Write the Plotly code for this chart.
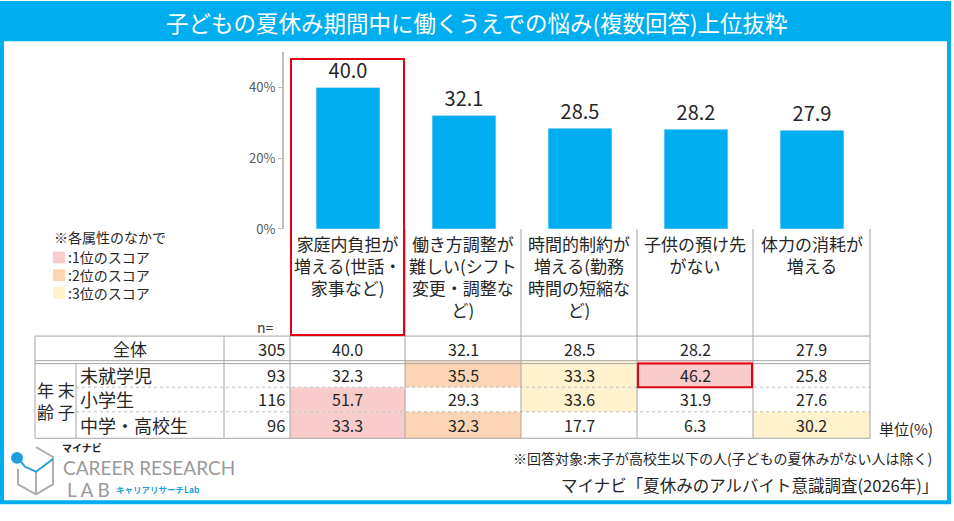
import plotly.graph_objects as go

# データ
categories = ["家庭内負担が増える(世話・家事など)", "働き方調整が難しい(シフト変更・調整など)",
              "時間的制約が増える(勤務時間の短縮など)", "子供の預け先がない", "体力の消耗が増える"]
cat_labels = ["家庭内負担が<br>増える(世話・<br>家事など)",
              "働き方調整が<br>難しい(シフト<br>変更・調整な<br>ど)",
              "時間的制約が<br>増える(勤務<br>時間の短縮な<br>ど)",
              "子供の預け先<br>がない",
              "体力の消耗が<br>増える"]
total_values = [40.0, 32.1, 28.5, 28.2, 27.9]
total_n = 305

group_labels = ["未就学児", "小学生", "中学・高校生"]
group_n = [93, 116, 96]
group_values = [
    [32.3, 35.5, 33.3, 46.2, 25.8],
    [51.7, 29.3, 33.6, 31.9, 27.6],
    [33.3, 32.3, 17.7, 6.3, 30.2],
]
# 各属性の順位 (1〜3位のみ色付け)
group_rank = [
    [0, 2, 3, 1, 0],
    [1, 0, 3, 0, 0],
    [1, 2, 0, 0, 3],
]
y_ticks = [0, 20, 40]

W, H = 954, 521
BLUE = "#00AEEF"
GRID = "#A6A6A6"
TXT = "#262626"
RANK_COL = {1: "#F9CCCC", 2: "#FCD5B4", 3: "#FFF2CC"}
FONT = "Noto Sans CJK JP"


def fx(x):
    return x / W


def fy(y):
    return 1 - y / H


col_edges = [290, 405, 521, 637, 753, 870]
row_edges = [342, 367, 394, 419, 446]

fig = go.Figure()
fig.add_trace(go.Bar(
    x=categories, y=total_values, marker_color=BLUE,
    text=[f"{v:.1f}" for v in total_values], textposition="outside",
    textfont=dict(size=20, color=TXT, family=FONT), cliponaxis=False,
    width=0.55, hoverinfo="skip",
))

shapes = []
ann = []


def line(x0, y0, x1, y1, color=GRID, width=1, dash="solid"):
    shapes.append(dict(type="line", xref="paper", yref="paper",
                       x0=fx(x0), y0=fy(y0), x1=fx(x1), y1=fy(y1),
                       line=dict(color=color, width=width, dash=dash)))


def rect(x0, y0, x1, y1, fill=None, color=None, width=0):
    shapes.append(dict(type="rect", xref="paper", yref="paper",
                       x0=fx(x0), y0=fy(y0), x1=fx(x1), y1=fy(y1),
                       fillcolor=fill or "rgba(0,0,0,0)",
                       line=dict(color=color or "rgba(0,0,0,0)", width=width),
                       layer="below" if fill else "above"))


def text(x, y, s, size=15, color=TXT, xa="center", ya="middle", family=FONT):
    ann.append(dict(x=fx(x), y=fy(y), xref="paper", yref="paper", text=s,
                    showarrow=False, xanchor=xa, yanchor=ya,
                    font=dict(size=size, color=color, family=family)))


def poly(points, color, width=2):
    path = " ".join(f"{'M' if i == 0 else 'L'} {fx(px)} {fy(py)}" for i, (px, py) in enumerate(points))
    shapes.append(dict(type="path", xref="paper", yref="paper", path=path,
                       line=dict(color=color, width=width)))


# 外枠とタイトル帯
rect(2, 3, 949, 511, color=BLUE, width=4)
rect(0, 2, 951, 42, fill=BLUE)
text(477, 22, "子どもの夏休み期間中に働くうえでの悩み(複数回答)上位抜粋", size=22.5, color="white")

# 項目ヘッダー
for i, lab in enumerate(cat_labels):
    text((col_edges[i] + col_edges[i + 1]) / 2, 233, lab, size=17, ya="top")
for xe in col_edges[1:]:
    line(xe, 233, xe, 342)
text(265, 333, "n=", size=14, color="#404040")

# 表のセル塗り
for r, vals in enumerate(group_values):
    for c, v in enumerate(vals):
        rk = group_rank[r][c]
        if rk:
            rect(col_edges[c], row_edges[r + 1], col_edges[c + 1], row_edges[r + 2], fill=RANK_COL[rk])

# 表の罫線
L, G, LE = 35, 76, 224
line(L, 342, 870, 342)
line(L, 367, 870, 367)
line(L, 370, 870, 370)
line(L, 446, 870, 446)
line(G, 394, 870, 394, color="#BFBFBF", dash="dot")
line(G, 419, 870, 419, color="#BFBFBF", dash="dot")
line(L, 342, L, 446)
line(G, 370, G, 446)
line(LE, 342, LE, 446)
for xe in col_edges:
    line(xe, 342, xe, 446)

# 表の文字
text((L + LE) / 2, 355, "全体", size=17)
text(287, 355, str(total_n), size=16.5, xa="right")
for c, v in enumerate(total_values):
    text((col_edges[c] + col_edges[c + 1]) / 2, 355, f"{v:.1f}", size=16)
text(56, 408, "年 末<br>齢 子", size=17)
for r, lab in enumerate(group_labels):
    yc = (row_edges[r + 1] + row_edges[r + 2]) / 2 + (1.5 if r == 0 else 0)
    text(78, yc, lab, size=18, xa="left")
    text(287, yc, str(group_n[r]), size=16.5, xa="right")
    for c, v in enumerate(group_values[r]):
        text((col_edges[c] + col_edges[c + 1]) / 2, yc, f"{v:.1f}", size=16)

# 強調の赤枠
rect(291, 60, 404, 341, color="#E60012", width=2)
rect(638, 370, 752, 394, color="#E60012", width=2)

# 凡例
text(110, 241, "※各属性のなかで", size=14)
for k, lab in enumerate([":1位のスコア", ":2位のスコア", ":3位のスコア"]):
    yc = 262 + k * 18
    rect(53, yc - 6, 65, yc + 6, fill=RANK_COL[k + 1])
    text(109, yc, lab, size=14)

# 注記
text(906, 436, "単位(%)", size=15)
text(722, 466, "※回答対象:末子が高校生以下の人(子どもの夏休みがない人は除く)", size=14)
text(749, 494, "マイナビ「夏休みのアルバイト意識調査(2026年)」", size=16.5)

# ロゴ
poly([(36, 455), (53, 465), (53, 493), (36, 503), (18, 493), (18, 477)], "#AFAFAF")
poly([(36, 503), (36, 480)], "#AFAFAF")
poly([(18, 466), (25, 475), (36, 480), (53, 467)], "#1EA0DC")
shapes.append(dict(type="circle", xref="paper", yref="paper",
                   x0=fx(11), y0=fy(460), x1=fx(23), y1=fy(472),
                   fillcolor="#1EA0DC", line=dict(width=0)))
text(82, 455, "<b>マイナビ</b>", size=10, color="#222")
text(149, 476, "CAREER RESEARCH", size=19, color="#9A9A9A", family="Lato")
text(88, 498, "L A B", size=19, color="#9A9A9A", family="Lato")
text(158, 498, "<b>キャリアリサーチLab</b>", size=8.5, color="#1EA0DC")

cell_w = 116
fig.update_layout(
    width=W, height=H, margin=dict(l=0, r=0, t=0, b=0),
    paper_bgcolor="white", plot_bgcolor="white", showlegend=False,
    font=dict(family=FONT),
    xaxis=dict(domain=[fx(284), fx(870)], range=[-0.5 - 6 / cell_w, 4.5],
               showticklabels=False, showgrid=False, zeroline=False, showline=False),
    yaxis=dict(domain=[fy(233), fy(53)], range=[0, 50], tickmode="array", tickvals=y_ticks,
               ticktext=[f"{v}%" for v in y_ticks],
               showgrid=False, zeroline=False, showline=True, linecolor="#BFBFBF", linewidth=2,
               ticks="outside", ticklen=4, tickcolor="#BFBFBF",
               tickfont=dict(size=13, color="#595959", family=FONT)),
    shapes=shapes, annotations=ann,
)

fig.write_html("out.html", config={"displayModeBar": False},
               post_script="document.body.style.margin='0';")
